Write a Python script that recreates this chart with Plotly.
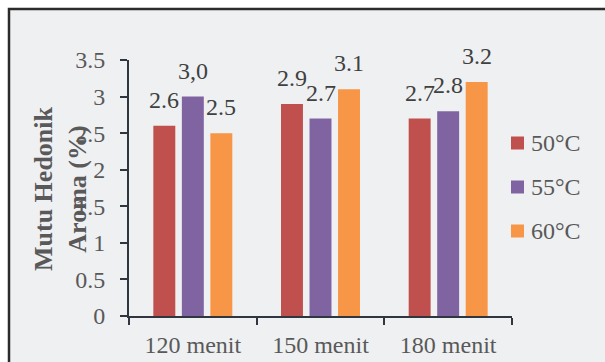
import plotly.graph_objects as go

# Mutu hedonik aroma per lama pengeringan and suhu
categories = ["120 menit", "150 menit", "180 menit"]
series_names = ["50°C", "55°C", "60°C"]
values_50 = [2.6, 2.9, 2.7]
values_55 = [3.0, 2.7, 2.8]
values_60 = [2.5, 3.1, 3.2]
labels_50 = ["2.6", "2.9", "2.7"]
labels_55 = ["3,0", "2.7", "2.8"]
labels_60 = ["2.5", "3.1", "3.2"]
y_ticks = [0, 0.5, 1, 1.5, 2, 2.5, 3, 3.5]
y_tick_text = ["0", "0.5", "1", "1.5", "2", "2.5", "3", "3.5"]

colors = ["#c0504d", "#8064a2", "#f79646"]
FONT = "Liberation Serif"
FS = 24

W, H = 605, 362
L, R, T, B = 129, 93, 60, 46
pw, ph = W - L - R, H - T - B
BARGAP, BARGROUPGAP = 0.33, 0.23


def px_x(x):
    return (x - L) / pw


def px_y(y):
    return (H - B - y) / ph


all_values = [values_50, values_55, values_60]
all_labels = [labels_50, labels_55, labels_60]

fig = go.Figure()
for name, vals, col in zip(series_names, all_values, colors):
    fig.add_trace(go.Bar(
        x=categories, y=vals, name=name,
        marker=dict(color=col, line=dict(width=0)),
        showlegend=False,
    ))

# value labels above each bar (bar centre within its group on the category axis)
slot = (1 - BARGAP) / len(series_names)
for k, (vals, txts) in enumerate(zip(all_values, all_labels)):
    for i, (v, t) in enumerate(zip(vals, txts)):
        fig.add_annotation(
            xref="x", yref="y", x=i + (k - (len(series_names) - 1) / 2) * slot, y=v,
            text=t, showarrow=False, xanchor="center", yanchor="bottom", yshift=11,
            font=dict(family=FONT, size=FS, color="#404040"))

# outer frame of the chart area
fig.add_shape(type="rect", xref="paper", yref="paper",
              x0=px_x(9), x1=px_x(W + 20), y0=px_y(H + 20), y1=px_y(9),
              line=dict(color="#2b2b2b", width=2.5), fillcolor="#eff0f2",
              layer="below")

# legend drawn as swatches and labels
leg_y = [143, 187, 231]
for name, col, yy in zip(series_names, colors, leg_y):
    fig.add_shape(type="rect", xref="paper", yref="paper",
                  x0=px_x(511), x1=px_x(524), y0=px_y(yy + 6.5), y1=px_y(yy - 6.5),
                  line=dict(width=0), fillcolor=col)
    fig.add_annotation(xref="paper", yref="paper", x=px_x(529), y=px_y(yy),
                       text=name, showarrow=False, xanchor="left", yanchor="middle",
                       font=dict(family=FONT, size=FS, color="#595959"))

# y axis title
fig.add_annotation(xref="paper", yref="paper", x=px_x(60), y=px_y(189),
                   text="<b>Mutu Hedonik<br>Aroma (%)</b>", textangle=-90,
                   showarrow=False, xanchor="center", yanchor="middle",
                   font=dict(family=FONT, size=26, color="#595959"))

fig.update_layout(
    width=W, height=H,
    margin=dict(l=L, r=R, t=T, b=B, pad=0, autoexpand=False),
    paper_bgcolor="white", plot_bgcolor="rgba(0,0,0,0)",
    barmode="group", bargap=BARGAP, bargroupgap=BARGROUPGAP,
    showlegend=False,
    xaxis=dict(
        automargin=False,
        showgrid=False, showline=True, linecolor="#2f3640", linewidth=2,
        ticks="outside", tickson="boundaries", ticklen=7, tickwidth=2,
        tickcolor="#2f3640", ticklabelstandoff=6,
        tickfont=dict(family=FONT, size=FS, color="#595959"),
    ),
    yaxis=dict(
        automargin=False,
        range=[0, 3.5], tickvals=y_ticks, ticktext=y_tick_text,
        showgrid=False, zeroline=False, showline=True, linecolor="#2f3640",
        linewidth=2, ticks="outside", ticklen=7, tickwidth=2, tickcolor="#2f3640",
        ticklabelstandoff=10,
        tickfont=dict(family=FONT, size=FS, color="#595959"),
    ),
)

fig.write_html("out.html")
